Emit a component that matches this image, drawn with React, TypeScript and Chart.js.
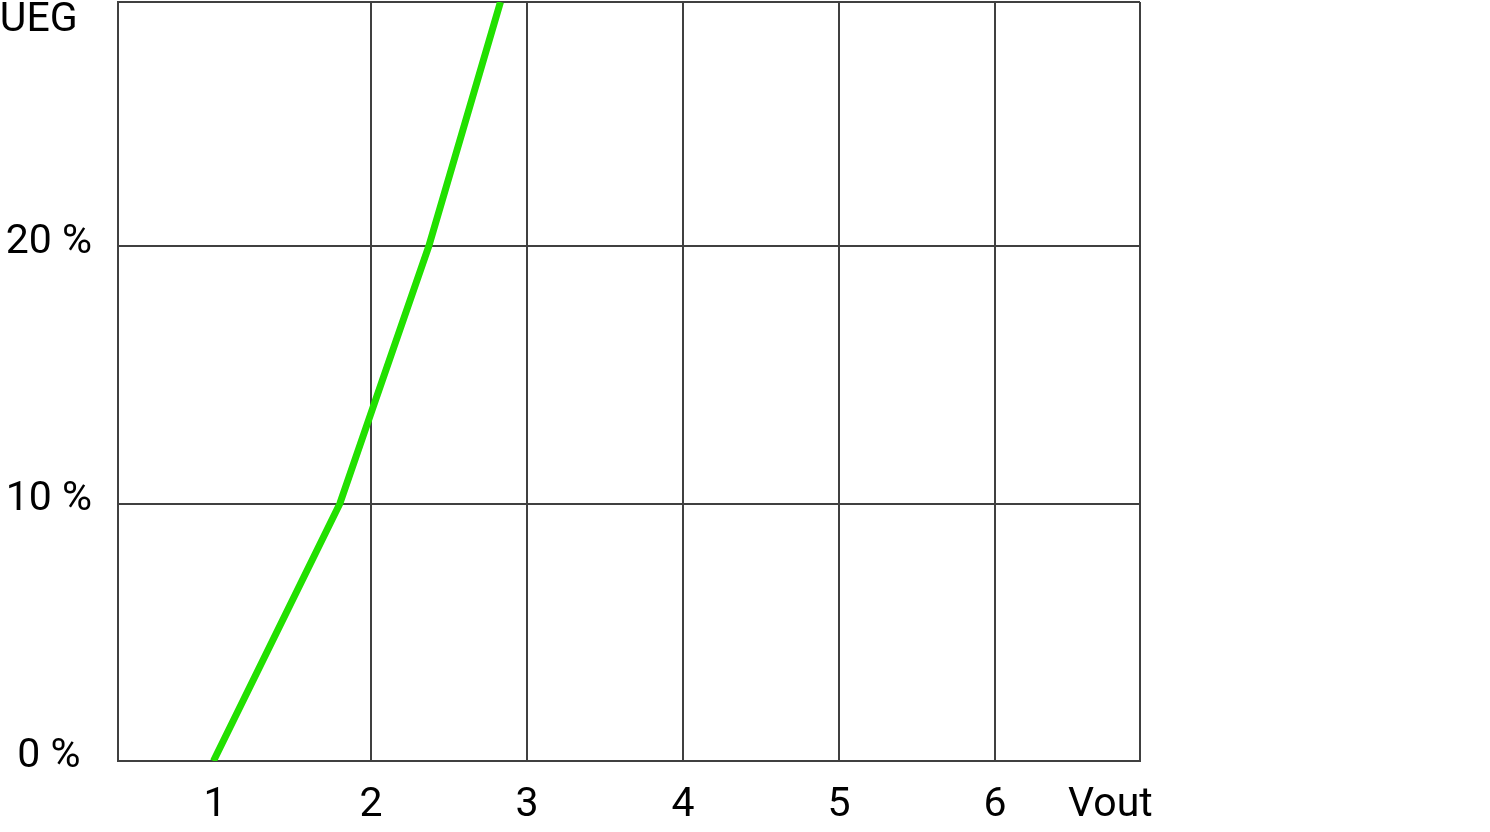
import { useEffect, useRef } from "react";
import Chart from "chart.js/auto";

// curve: output voltage vs. % UEG
const voutValues = [0.99, 1.8, 2.01, 2.37, 2.83];
const uegValues = [0, 10, 13.7, 20, 29.5];

const xTickValues = [1, 2, 3, 4, 5, 6];
const xTickLabels = ["1", "2", "3", "4", "5", "6"];
const yTickValues = [0, 10, 20];
const yTickLabels = ["0 %", "10 %", "20 %"];

const xAxisTitle = "Vout";
const xAxisTitleAt = 6.74;
const yAxisTitle = "UEG";
const yAxisTitleAt = 28.6;

const X_MIN = 0.378;
const X_MAX = 6.93;
const Y_MIN = 0;
const Y_MAX = 29.5;

const GRID = "#404040";
const FONT = { family: "Roboto", size: 41 };

export default function App() {
  const chartRef = useRef<HTMLCanvasElement>(null);
  const chartInstanceRef = useRef<Chart | null>(null);

  useEffect(() => {
    if (!chartRef.current) return;
    if (chartInstanceRef.current) chartInstanceRef.current.destroy();

    const ctx = chartRef.current.getContext("2d");
    if (!ctx) return;

    const xTicks = [...xTickValues, xAxisTitleAt, X_MAX];
    const yTicks = [...yTickValues, yAxisTitleAt, Y_MAX];

    chartInstanceRef.current = new Chart(ctx, {
      type: "scatter",
      data: {
        datasets: [
          {
            data: voutValues.map((v, i) => ({ x: v, y: uegValues[i] })),
            showLine: true,
            borderColor: "#22e000",
            borderWidth: 7,
            pointRadius: 0,
            tension: 0,
          },
        ],
      },
      options: {
        animation: false,
        responsive: true,
        maintainAspectRatio: false,
        layout: { padding: { top: 2, right: 350, left: 0, bottom: 0 } },
        plugins: { legend: { display: false }, tooltip: { enabled: false } },
        scales: {
          x: {
            type: "linear",
            min: X_MIN,
            max: X_MAX,
            afterBuildTicks: (scale: any) => {
              scale.ticks = xTicks.map((v) => ({ value: v }));
            },
            afterFit: (scale: any) => {
              scale.height = 71;
              scale.paddingLeft = 0;
              scale.paddingRight = 0;
            },
            border: { color: GRID, width: 2 },
            grid: {
              drawTicks: false,
              lineWidth: 2,
              color: (c: any) => {
                const v = c.tick?.value;
                return v === 1 || v === xAxisTitleAt ? "rgba(0,0,0,0)" : GRID;
              },
            },
            ticks: {
              autoSkip: false,
              maxRotation: 0,
              padding: 20,
              color: "#000",
              font: FONT,
              callback: (v: any) => {
                if (v === xAxisTitleAt) return xAxisTitle;
                const i = xTickValues.indexOf(v);
                return i >= 0 ? xTickLabels[i] : "";
              },
            },
          },
          y: {
            type: "linear",
            min: Y_MIN,
            max: Y_MAX,
            afterBuildTicks: (scale: any) => {
              scale.ticks = yTicks.map((v) => ({ value: v }));
            },
            afterFit: (scale: any) => {
              scale.width = 118;
              scale.paddingTop = 0;
              scale.paddingBottom = 0;
            },
            border: { color: GRID, width: 2 },
            grid: {
              drawTicks: false,
              lineWidth: 2,
              color: (c: any) =>
                c.tick?.value === yAxisTitleAt ? "rgba(0,0,0,0)" : GRID,
            },
            ticks: {
              autoSkip: false,
              crossAlign: "center",
              padding: 20,
              labelOffset: -4,
              color: "#000",
              font: FONT,
              callback: (v: any) => {
                if (v === yAxisTitleAt) return yAxisTitle + "  ";
                const i = yTickValues.indexOf(v);
                return i >= 0 ? yTickLabels[i] : "";
              },
            },
          },
        },
      },
    });

    return () => {
      if (chartInstanceRef.current) {
        chartInstanceRef.current.destroy();
        chartInstanceRef.current = null;
      }
    };
  }, []);

  return (
    <div
      style={{
        position: "absolute",
        left: 0,
        top: 0,
        width: "1490px",
        height: "832px",
        background: "#fff",
      }}
    >
      <canvas ref={chartRef}></canvas>
    </div>
  );
}
